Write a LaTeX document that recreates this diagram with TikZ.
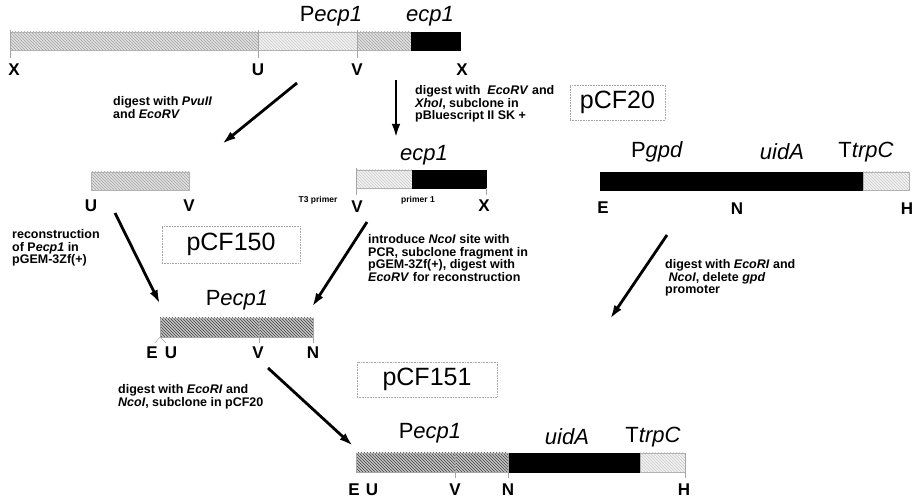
\documentclass[tikz,border=0pt]{standalone}
\usepackage{fontspec}
\setmainfont{Liberation Sans}
\setsansfont{Liberation Sans}
\usetikzlibrary{arrows.meta,patterns}
\begin{document}
\begin{tikzpicture}[x=1pt,y=-1pt,
  hatch/.style={preaction={fill=gray!25},pattern=north west lines,pattern color=gray!70,draw=gray!60,line width=0.3pt},
  lighthatch/.style={preaction={fill=gray!10},pattern=north west lines,pattern color=gray!40,draw=gray!60,line width=0.3pt},
  darkhatch/.style={preaction={fill=gray!45},pattern=north west lines,pattern color=black!75,draw=gray!70,line width=0.3pt},
  solid bar/.style={fill=black,draw=black},
  site/.style={font=\bfseries\fontsize{17}{17}\selectfont,inner sep=0pt},
  gene/.style={font=\fontsize{22}{22}\selectfont,inner sep=0pt},
  note/.style={font=\bfseries\fontsize{12.5}{12.8}\selectfont,align=left,anchor=north west,inner sep=0pt},
  tiny/.style={font=\bfseries\fontsize{8.5}{9}\selectfont,inner sep=0pt},
  plasmid/.style={draw=gray!70,densely dotted,line width=0.6pt,font=\fontsize{25}{25}\selectfont,inner sep=0pt},
  flow/.style={line width=2.8pt,-{Latex[length=14pt,width=8.5pt]}},
  siteline/.style={gray!70,line width=0.5pt}]
\useasboundingbox (0,0) rectangle (916,502);

% ---------- top genomic fragment ----------
\fill[hatch] (10,32) rectangle (258,50);
\fill[lighthatch] (258,32) rectangle (357,50);
\fill[hatch] (357,32) rectangle (411,50);
\fill[solid bar] (411,32) rectangle (460,50);
\draw[siteline] (10,30) -- (10,58) (258,30) -- (258,58) (357,30) -- (357,58);
\node[gene] (tP) at (331,16) {P\textit{ecp1}};
\node[gene] (tE) at (430,16) {\textit{ecp1}};
\node[site] (tX1) at (14,70) {X};
\node[site] (tU) at (258,70) {U};
\node[site] (tV) at (357,70) {V};
\node[site] (tX2) at (462,70) {X};

% ---------- arrows from top ----------
\coordinate (a1s) at (297,83); \coordinate (a1e) at (222,144);
\draw[flow] (a1s) -- (a1e);
\node[note] (n1) at (113,96) {digest with \textit{PvuII}\\and \textit{EcoRV}};
\coordinate (a2s) at (396,80); \coordinate (a2e) at (396,138);
\draw[flow] (a2s) -- (a2e);
\node[note] (n2) at (415,85) {digest with \ \textit{EcoRV} and\\\textit{XhoI}, subclone in\\pBluescript II SK +};
\node[plasmid,minimum width=95pt,minimum height=35pt] (p20) at (617.5,102.5) {pCF20};

% ---------- middle left fragment ----------
\fill[hatch] (91,172) rectangle (189,190);
\node[site] (mU) at (91,206) {U};
\node[site] (mV) at (189,206) {V};

% ---------- middle centre fragment ----------
\fill[lighthatch] (356,170) rectangle (412,188);
\fill[solid bar] (412,170) rectangle (486,188);
\draw[siteline] (356,168) -- (356,195) (486,188) -- (486,195);
\node[gene] (cE) at (424,155) {\textit{ecp1}};
\node[tiny] (t3) at (318,200) {T3 primer};
\node[site] (cV) at (357,207) {V};
\node[tiny] (pr1) at (418,200) {primer 1};
\node[site] (cX) at (484,206) {X};

% ---------- right construct ----------
\fill[solid bar] (600,172) rectangle (863,190);
\fill[lighthatch] (863,172) rectangle (909,190);
\node[gene] (rP) at (657,152) {P\textit{gpd}};
\node[gene] (rU) at (782,152) {\textit{uidA}};
\node[gene] (rT) at (866,152) {T\textit{trpC}};
\node[site] (rE) at (603,208) {E};
\node[site] (rN) at (737,209) {N};
\node[site] (rH) at (907,209) {H};

% ---------- second row arrows and notes ----------
\node[note] (n3) at (12,229) {reconstruction\\of P\textit{ecp1} in\\pGEM-3Zf(+)};
\node[plasmid,minimum width=138pt,minimum height=37pt] (p150) at (231,244.5) {pCF150};
\coordinate (a3s) at (115,213); \coordinate (a3e) at (160,304);
\draw[flow] (a3s) -- (a3e);
\coordinate (a4s) at (367,222); \coordinate (a4e) at (312,307);
\draw[flow] (a4s) -- (a4e);
\node[note] (n4) at (368,234) {introduce \textit{NcoI} site with\\PCR, subclone fragment in\\pGEM-3Zf(+), digest with\\\textit{EcoRV} for reconstruction};
\coordinate (a5s) at (667,235); \coordinate (a5e) at (610,319);
\draw[flow] (a5s) -- (a5e);
\node[note] (n5) at (665,259) {digest with \textit{EcoRI} and\\\ \textit{NcoI}, delete \textit{gpd}\\promoter};

% ---------- reconstructed promoter ----------
\fill[darkhatch] (160,318) rectangle (313,337);
\draw[siteline] (259,318) -- (259,343) (313,318) -- (313,343);
\draw[siteline] (160,337) -- (155,343) (160,337) -- (166,343);
\node[gene] (mP) at (237,300) {P\textit{ecp1}};
\node[site] (pE) at (152,353) {E};
\node[site] (pU) at (171,353) {U};
\node[site] (pV) at (258,353) {V};
\node[site] (pN) at (313,353) {N};

% ---------- final step ----------
\node[note] (n6) at (118,384) {digest with \textit{EcoRI} and\\\textit{NcoI}, subclone in pCF20};
\coordinate (a6s) at (268,368); \coordinate (a6e) at (353,446);
\draw[flow] (a6s) -- (a6e);
\node[plasmid,minimum width=140pt,minimum height=35pt] (p151) at (427,379.5) {pCF151};

% ---------- final construct ----------
\fill[darkhatch] (356,453) rectangle (508,472);
\fill[solid bar] (508,453) rectangle (640,472);
\fill[lighthatch] (640,453) rectangle (685,472);
\draw[siteline] (455,453) -- (455,478) (508,453) -- (508,478) (685,453) -- (685,478);
\node[gene] (fP) at (430,433) {P\textit{ecp1}};
\node[gene] (fU) at (567,437) {\textit{uidA}};
\node[gene] (fT) at (653,437) {T\textit{trpC}};
\node[site] (fE) at (354,490) {E};
\node[site] (fU2) at (372,490) {U};
\node[site] (fV) at (455,490) {V};
\node[site] (fN) at (508,490) {N};
\node[site] (fH) at (684,490) {H};
\end{tikzpicture}
\end{document}
